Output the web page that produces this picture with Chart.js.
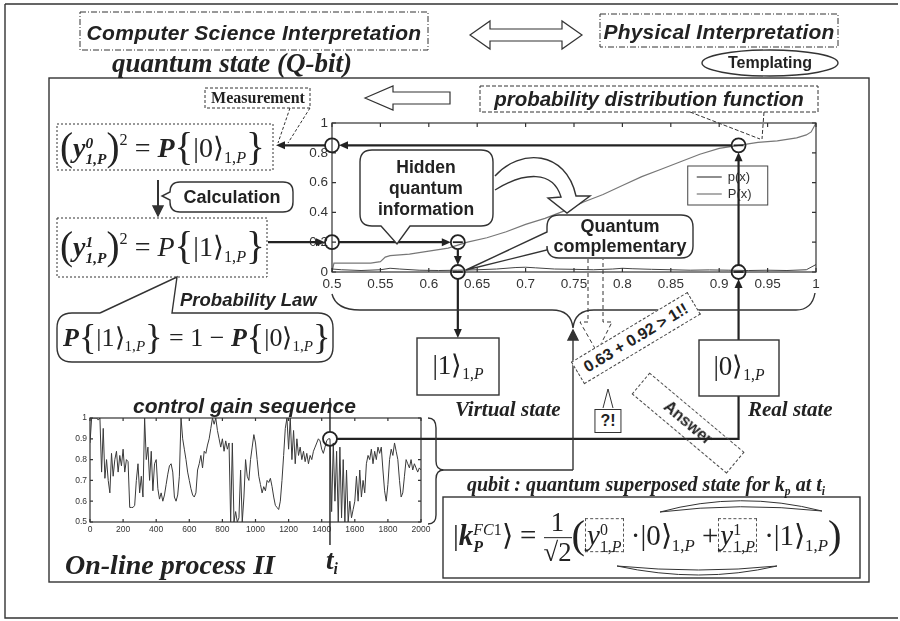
<!DOCTYPE html>
<html>
<head>
<meta charset="utf-8">
<script src="https://cdn.jsdelivr.net/npm/chart.js@4.4.1/dist/chart.umd.min.js"></script>
<style>
html,body{margin:0;padding:0;background:#fff;}
#page{position:relative;width:900px;height:621px;overflow:hidden;background:#fff;}
.cv{position:absolute;left:0;top:0;}
svg{position:absolute;left:0;top:0;}
.t{position:absolute;white-space:nowrap;transform:translate(-50%,-50%);color:#222;line-height:1;text-align:center;}
.l{position:absolute;white-space:nowrap;transform:translateY(-50%);color:#222;line-height:1;}
.sans{font-family:"Liberation Sans",Arial,sans-serif;font-weight:bold;}
.serif{font-family:"Liberation Serif","Times New Roman",serif;}
.bi{font-weight:bold;font-style:italic;}
.ss{display:inline-block;vertical-align:-0.45em;font-size:55%;line-height:1.05;text-align:left;}
.ss span{display:block;}
.br{font-size:140%;vertical-align:-0.08em;}
sub{font-size:58%;vertical-align:-0.35em;}
sup{font-size:58%;vertical-align:0.75em;}
.fr{display:inline-flex;flex-direction:column;vertical-align:middle;text-align:center;font-size:92%;line-height:1.1;}
.fr .den{border-top:1.4px solid #222;}
.dbox{border:1px dashed #555;padding:0 1px;}
</style>
</head>
<body>
<div id="page">
<canvas id="gainChart" class="cv" width="900" height="621"></canvas>
<canvas id="pdfChart" class="cv" width="900" height="621"></canvas>

<svg width="900" height="621" viewBox="0 0 900 621" fill="none" stroke="#333" stroke-width="1.4">
  <path d="M5 4 H898 M5 4 V618 H898"/>
  <rect x="49" y="78" width="820" height="504"/>
  <rect x="80" y="12" width="348" height="38" stroke-dasharray="6 2 1 2" stroke-width="1"/>
  <rect x="600" y="14" width="238" height="33" stroke-dasharray="6 2 1 2" stroke-width="1"/>
  <path d="M470 35 L490 21 L490 29 L562 29 L562 21 L582 35 L562 49 L562 41 L490 41 L490 49 Z" stroke-width="1.2"/>
  <ellipse cx="770" cy="63" rx="68" ry="13"/>
  <rect x="205" y="88" width="105" height="20" stroke-dasharray="3 2" stroke-width="1"/>
  <path d="M290 108 L278 143 M310 108 L288 143" stroke-dasharray="3 2" stroke-width="1"/>
  <path d="M365 98 L393 86 L393 92 L450 92 L450 104 L393 104 L393 110 Z" stroke-width="1.2"/>
  <rect x="480" y="86" width="338" height="26" stroke-dasharray="4 2" stroke-width="1"/>
  <path d="M690 112 L760 139 M764 112 L762 139" stroke-dasharray="4 2" stroke-width="1"/>
  <rect x="57" y="124" width="216" height="46" stroke-dasharray="2 2" stroke-width="1"/>
  <rect x="57" y="218" width="210" height="59" stroke-dasharray="2 2" stroke-width="1"/>
  <path d="M158 180 V208" stroke-width="2"/>
  <path d="M153 206 L158 216 L163 206 Z" fill="#333"/>
  <path d="M180 182 H283 Q293 182 293 192 V202 Q293 212 283 212 H180 Q170 212 170 202 V200 L162 196 L170 192 Q170 182 180 182 Z"/>
  <path d="M100 313 H72 Q57 313 57 328 V347 Q57 362 72 362 H318 Q333 362 333 347 V328 Q333 313 318 313 H172 L177 277 L100 313"/>
  <path d="M332 294 Q336 310 360 310 H552 Q571 310 573 328 Q575 310 594 310 H796 Q812 310 815 293"/>
  <path d="M573 470 V338"/>
  <path d="M568 340 L573 330 L578 340 Z" fill="#333"/>
  <path d="M444 470 H573"/>
  <path d="M428 418 Q436 418 436 428 V461 Q436 470 444 470 Q436 470 436 479 V515 Q436 524 428 524"/>
  <rect x="417" y="338" width="82" height="57"/>
  <rect x="699" y="340" width="80" height="56"/>
  <path d="M372 150 H481 Q493 150 493 162 V214 Q493 226 481 226 H410 L397 244 L381 226 H372 Q360 226 360 214 V162 Q360 150 372 150 Z" fill="#fff"/>
  <path d="M495 176 C520 148 566 150 576 196 L590 196 L567 213 L548 198 L561 197 C553 170 524 172 495 190" fill="#fff"/>
  <path d="M559 215 H681 Q693 215 693 227 V246 Q693 258 681 258 H559 Q547 258 547 246 V250 L466 270 L547 232 V227 Q547 215 559 215 Z" fill="#fff"/>
  <path d="M588 259 V322 L580 322 L597 352 L612 322 L603 322 V259" stroke-dasharray="4 3" stroke-width="1"/>
  <path d="M603 408 L608 389 L613 408" stroke-width="1"/>
  <rect x="443" y="497" width="417" height="81"/>
  <path d="M660 512 Q740 490 822 511 Q740 502 660 512 Z" stroke-width="1"/>
  <path d="M617 566 Q700 584 777 566 Q700 574 617 566 Z" stroke-width="1"/>
</svg>

<div class="t sans" style="left:254px;top:32px;font-size:21px;font-style:italic;letter-spacing:0.3px">Computer Science Interpretation</div>
<div class="t sans" style="left:719px;top:31px;font-size:21px;font-style:italic;letter-spacing:0.2px">Physical Interpretation</div>
<div class="t sans" style="left:770px;top:63px;font-size:16px">Templating</div>
<div class="l serif bi" style="left:112px;top:63px;font-size:27px">quantum state (Q-bit)</div>
<div class="t serif" style="left:258px;top:98px;font-size:16px;font-weight:bold">Measurement</div>
<div class="t sans" style="left:649px;top:99px;font-size:20.5px;font-style:italic">probability distribution function</div>

<div class="l serif" style="left:60px;top:147px;font-size:28px"><span class="br">(</span><b><i>y</i></b><span class="ss"><span><b><i>0</i></b></span><span><b><i>1,P</i></b></span></span><span class="br">)</span><sup>2</sup> = <b><i>P</i></b><span class="br">{</span>|0⟩<sub>1,<i>P</i></sub><span class="br">}</span></div>
<div class="t sans" style="left:232px;top:197px;font-size:18px">Calculation</div>
<div class="l serif" style="left:60px;top:246px;font-size:28px"><span class="br">(</span><b><i>y</i></b><span class="ss"><span><b><i>1</i></b></span><span><b><i>1,P</i></b></span></span><span class="br">)</span><sup>2</sup> = <i>P</i><span class="br">{</span>|1⟩<sub>1,<i>P</i></sub><span class="br">}</span></div>
<div class="l sans" style="left:180px;top:300px;font-size:18.5px;font-style:italic">Probability Law</div>
<div class="l serif" style="left:63px;top:337px;font-size:26px"><b><i>P</i></b><span class="br">{</span>|1⟩<sub>1,<i>P</i></sub><span class="br">}</span> = 1 − <b><i>P</i></b><span class="br">{</span>|0⟩<sub>1,<i>P</i></sub><span class="br">}</span></div>

<div class="t sans" style="left:426px;top:188px;font-size:17.5px;line-height:1.2">Hidden<br>quantum<br>information</div>
<div class="t sans" style="left:620px;top:237px;font-size:18px;line-height:1.1">Quantum<br>complementary</div>

<div class="t serif" style="left:458px;top:367px;font-size:27px">|1⟩<sub>1,<i>P</i></sub></div>
<div class="t serif" style="left:739px;top:368px;font-size:27px">|0⟩<sub>1,<i>P</i></sub></div>
<div class="l serif bi" style="left:455px;top:409px;font-size:21px">Virtual state</div>
<div class="l serif bi" style="left:748px;top:409px;font-size:21px">Real state</div>

<div class="t sans" style="left:636px;top:338px;font-size:16px;transform:translate(-50%,-50%) rotate(-31deg);border:1.2px dashed #444;padding:4px 8px;background:#fff">0.63 + 0.92 &gt; 1!!</div>
<div class="t sans" style="left:608px;top:421px;font-size:16px;border:1.3px solid #333;padding:3px 5px;background:#fff">?!</div>
<div class="t sans" style="left:688px;top:423px;font-size:16px;transform:translate(-50%,-50%) rotate(40deg);border:1.2px dashed #444;padding:5px 32px">Answer</div>

<div class="l sans" style="left:133px;top:405px;font-size:21px;font-style:italic">control gain sequence</div>
<div class="l serif bi" style="left:65px;top:565px;font-size:28px">On-line process II</div>
<div class="l serif bi" style="left:326px;top:562px;font-size:27px">t<sub>i</sub></div>
<div class="l serif bi" style="left:467px;top:486px;font-size:20px">qubit : quantum superposed state for k<sub>p</sub> at t<sub>i</sub></div>

<div class="l serif" style="left:453px;top:538px;font-size:29px">|<b><i>k</i></b><span class="ss"><span><i>FC</i>1</span><span><b><i>P</i></b></span></span>⟩ = <span class="fr"><span>1</span><span class="den">√2</span></span><span class="br">(</span><span class="dbox"><i>y</i><span class="ss"><span>0</span><span>1,<i>P</i></span></span></span> ·|0⟩<sub>1,<i>P</i></sub> +<span class="dbox"><i>y</i><span class="ss"><span>1</span><span>1,<i>P</i></span></span></span> ·|1⟩<sub>1,<i>P</i></sub><span class="br">)</span></div>
</div>

<script>
// probability distribution chart (x from 0.5 to 1)
const pdfX = [0.5, 0.51, 0.53, 0.55, 0.56, 0.57, 0.59, 0.61, 0.63, 0.65, 0.67, 0.69, 0.7, 0.71, 0.73, 0.75, 0.77, 0.79, 0.8, 0.81, 0.83, 0.85, 0.87, 0.89, 0.91, 0.93, 0.95, 0.97, 0.99, 1.0];
const pdfY = [0.02, 0.015, 0.01, 0.015, 0.025, 0.02, 0.012, 0.01, 0.012, 0.015, 0.02, 0.03, 0.032, 0.028, 0.02, 0.018, 0.015, 0.02, 0.025, 0.022, 0.018, 0.015, 0.012, 0.014, 0.012, 0.01, 0.012, 0.01, 0.015, 0.05];
const cdfX = [0.5, 0.502, 0.52, 0.54, 0.55, 0.555, 0.56, 0.58, 0.6, 0.62, 0.63, 0.64, 0.66, 0.68, 0.7, 0.72, 0.74, 0.76, 0.78, 0.8, 0.82, 0.84, 0.86, 0.88, 0.9, 0.92, 0.94, 0.96, 0.98, 0.99, 0.995, 1.0];
const cdfY = [0, 0.06, 0.06, 0.06, 0.07, 0.1, 0.11, 0.12, 0.14, 0.16, 0.18, 0.2, 0.23, 0.27, 0.32, 0.36, 0.41, 0.47, 0.52, 0.58, 0.64, 0.69, 0.74, 0.79, 0.83, 0.85, 0.87, 0.88, 0.9, 0.92, 0.94, 1.0];
const pdfXTicks = [0.5, 0.55, 0.6, 0.65, 0.7, 0.75, 0.8, 0.85, 0.9, 0.95, 1];
const pdfYTicks = [0, 0.2, 0.4, 0.6, 0.8, 1];
const seriesNames = ["p(x)", "P(x)"];

// picked values: virtual state at 0.63 -> 0.2, real state at 0.92 -> 0.85
const pickX = [0.63, 0.92];
const pickY = [0.2, 0.85];

// control gain sequence, one value every 10 samples from 0 to 2000
const gainStep = 10;
const gainY = [
0.88,1.0,1.0,1.0,1.0,0.99,1.0,0.74,0.95,0.71,0.8,0.7,0.64,0.83,0.72,0.8,0.84,0.74,0.82,0.77,
0.85,0.74,0.8,0.79,0.57,0.57,0.57,0.58,0.7,0.78,0.64,0.72,0.62,1.0,0.8,0.86,0.7,0.84,0.65,0.78,
0.8,0.66,0.61,0.64,0.6,0.63,0.68,0.73,0.77,0.78,0.74,0.62,0.6,0.63,0.72,1.0,0.9,0.85,0.8,0.74,
0.7,0.66,0.63,0.62,0.64,0.75,0.78,0.82,0.76,0.84,0.83,0.87,0.9,0.95,1.0,0.97,1.0,0.94,0.9,0.86,
0.9,0.84,0.89,0.85,0.88,0.5,0.88,0.5,0.55,0.5,0.52,0.75,0.5,0.62,0.8,0.72,0.7,0.8,0.86,0.92,
0.88,0.8,0.72,0.68,0.64,0.67,0.65,0.7,0.69,0.71,0.67,0.62,0.58,0.57,0.56,0.6,0.7,0.82,0.95,1.0,
0.85,1.0,0.8,0.94,0.78,0.9,0.82,0.86,0.8,0.84,0.79,0.83,0.78,0.82,0.8,0.84,0.86,0.88,0.9,0.89,
0.85,0.83,0.86,0.89,0.9,0.9,0.55,0.88,0.6,0.84,0.5,0.86,0.52,0.8,0.5,0.75,0.5,0.6,0.52,0.56,
0.6,0.72,0.6,0.75,0.62,0.7,0.64,0.78,0.82,0.8,0.85,0.78,0.84,0.8,0.86,0.83,0.86,0.75,0.65,0.6,
0.68,0.8,0.85,0.82,0.88,0.84,0.8,0.7,0.62,0.64,0.72,0.8,0.78,0.76,0.8,0.75,0.78,0.76,0.74,0.76,0.75
];
const gainXTicks = [0, 200, 400, 600, 800, 1000, 1200, 1400, 1600, 1800, 2000];
const gainYTicks = [0.5, 0.6, 0.7, 0.8, 0.9, 1];
const tiSample = 1450;
const tiGain = 0.9;

Chart.defaults.font.family = '"Liberation Sans", Arial, sans-serif';
Chart.defaults.color = "#333";

function fmt(v){ return String(+(+v).toFixed(2)); }

function arrow(ctx, x1, y1, x2, y2){
  const a = Math.atan2(y2 - y1, x2 - x1), h = 9, w = 4;
  ctx.beginPath();
  ctx.moveTo(x1, y1);
  ctx.lineTo(x2 - Math.cos(a) * h * 0.8, y2 - Math.sin(a) * h * 0.8);
  ctx.stroke();
  ctx.beginPath();
  ctx.moveTo(x2, y2);
  ctx.lineTo(x2 - h * Math.cos(a) + w * Math.sin(a), y2 - h * Math.sin(a) - w * Math.cos(a));
  ctx.lineTo(x2 - h * Math.cos(a) - w * Math.sin(a), y2 - h * Math.sin(a) + w * Math.cos(a));
  ctx.closePath();
  ctx.fill();
}
function ring(ctx, cx, cy, r, bar){
  ctx.beginPath(); ctx.arc(cx, cy, r, 0, Math.PI * 2); ctx.stroke();
  if (bar){ ctx.beginPath(); ctx.moveTo(cx - r + 2, cy); ctx.lineTo(cx + r - 2, cy); ctx.stroke(); }
}
// box round the plot with small inward ticks on every side
function drawFrame(chart, len){
  const {ctx, chartArea: a, scales: {x, y}} = chart;
  ctx.save();
  ctx.strokeStyle = "#333"; ctx.lineWidth = 1.2;
  ctx.strokeRect(a.left, a.top, a.right - a.left, a.bottom - a.top);
  ctx.beginPath();
  x.ticks.forEach(t => { const p = x.getPixelForValue(t.value);
    ctx.moveTo(p, a.bottom); ctx.lineTo(p, a.bottom - len); ctx.moveTo(p, a.top); ctx.lineTo(p, a.top + len); });
  y.ticks.forEach(t => { const p = y.getPixelForValue(t.value);
    ctx.moveTo(a.left, p); ctx.lineTo(a.left + len, p); ctx.moveTo(a.right, p); ctx.lineTo(a.right - len, p); });
  ctx.stroke();
  ctx.restore();
}

const pdfMarks = {
  id: "pdfMarks",
  afterDraw(chart){
    const {ctx, chartArea: a, scales: {x, y}} = chart;
    drawFrame(chart, 4);
    // legend box inside the plot
    const lx = a.left + (a.right - a.left) * 0.735, ly = a.top + 43;
    ctx.save();
    ctx.fillStyle = "#fff"; ctx.strokeStyle = "#444"; ctx.lineWidth = 1;
    ctx.fillRect(lx, ly, 80, 39); ctx.strokeRect(lx, ly, 80, 39);
    chart.data.datasets.forEach((d, i) => {
      const yy = ly + 11 + i * 17;
      ctx.strokeStyle = d.borderColor; ctx.lineWidth = 1.2;
      ctx.beginPath(); ctx.moveTo(lx + 9, yy); ctx.lineTo(lx + 34, yy); ctx.stroke();
      ctx.fillStyle = "#333"; ctx.font = '13px "Liberation Sans", Arial'; ctx.textBaseline = "middle";
      ctx.fillText(d.label, lx + 40, yy);
    });
    // measurement arrows and markers
    const r = 7;
    const X0 = x.getPixelForValue(0.5), X1 = x.getPixelForValue(pickX[0]), X2 = x.getPixelForValue(pickX[1]);
    const Yl = y.getPixelForValue(pickY[0]), Yh = y.getPixelForValue(pickY[1]), Y0 = y.getPixelForValue(0);
    ctx.strokeStyle = "#222"; ctx.fillStyle = "#222"; ctx.lineWidth = 2.2;
    arrow(ctx, X2 - r, Yh, X0 + r, Yh);
    arrow(ctx, X0 - r, Yh, 276, Yh);
    arrow(ctx, 268, Yl, X0 - r, Yl);
    arrow(ctx, X0 + r, Yl, X1 - r, Yl);
    arrow(ctx, X1, Yl + r, X1, Y0 - r);
    arrow(ctx, X1, Y0 + r, X1, 338);
    arrow(ctx, X2, 340, X2, Y0 + r);
    arrow(ctx, X2, Y0 - r, X2, Yh + r);
    ctx.lineWidth = 1.8;
    ring(ctx, X0, Yh, r, false);
    ring(ctx, X2, Yh, r, true);
    ring(ctx, X0, Yl, r, false);
    ring(ctx, X1, Yl, r, true);
    ring(ctx, X1, Y0, r, true);
    ring(ctx, X2, Y0, r, true);
    ctx.restore();
  }
};

const pdfChart = new Chart(document.getElementById("pdfChart"), {
  type: "line",
  data: {
    datasets: [
      { label: seriesNames[0], data: pdfX.map((v, i) => ({x: v, y: pdfY[i]})), borderColor: "#444", borderWidth: 1, pointRadius: 0 },
      { label: seriesNames[1], data: cdfX.map((v, i) => ({x: v, y: cdfY[i]})), borderColor: "#777", borderWidth: 1.2, pointRadius: 0 }
    ]
  },
  options: {
    responsive: false, animation: false,
    layout: { padding: { left: 302, right: 84, top: 123, bottom: 331 } },
    plugins: { legend: { display: false }, tooltip: { enabled: false } },
    scales: {
      x: { type: "linear", min: 0.5, max: 1,
        afterBuildTicks: s => { s.ticks = pdfXTicks.map(v => ({value: v})); },
        afterFit: s => { s.height = 18; },
        grid: { display: false, drawTicks: false, tickLength: 0 }, border: { display: false },
        ticks: { font: { size: 13.5 }, padding: 4, maxRotation: 0, autoSkip: false, callback: fmt } },
      y: { min: 0, max: 1,
        afterBuildTicks: s => { s.ticks = pdfYTicks.map(v => ({value: v})); },
        afterFit: s => { s.width = 30; },
        grid: { display: false, drawTicks: false, tickLength: 0 }, border: { display: false },
        ticks: { font: { size: 13.5 }, padding: 4, callback: fmt } }
    }
  },
  plugins: [pdfMarks]
});

const gainMarks = {
  id: "gainMarks",
  afterDraw(chart){
    const {ctx, scales: {x, y}} = chart;
    drawFrame(chart, 3);
    const r = 7;
    const T = x.getPixelForValue(tiSample), V = y.getPixelForValue(tiGain);
    const X2 = pdfChart.scales.x.getPixelForValue(pickX[1]);
    ctx.save();
    ctx.strokeStyle = "#222"; ctx.lineWidth = 1.4;
    ctx.beginPath(); ctx.moveTo(T, 398); ctx.lineTo(T, V - r); ctx.moveTo(T, V + r); ctx.lineTo(T, 545); ctx.stroke();
    ctx.lineWidth = 2.2;
    ctx.beginPath(); ctx.moveTo(T + r, V); ctx.lineTo(X2, V); ctx.lineTo(X2, 396); ctx.stroke();
    ctx.lineWidth = 1.8;
    ring(ctx, T, V, r, false);
    ctx.restore();
  }
};

new Chart(document.getElementById("gainChart"), {
  type: "line",
  data: {
    datasets: [
      { label: "control gain", data: gainY.map((v, i) => ({x: i * gainStep, y: v})), borderColor: "#3a3a3a", borderWidth: 1, pointRadius: 0 }
    ]
  },
  options: {
    responsive: false, animation: false,
    layout: { padding: { left: 70, right: 479, top: 418, bottom: 85 } },
    plugins: { legend: { display: false }, tooltip: { enabled: false } },
    scales: {
      x: { type: "linear", min: 0, max: 2000,
        afterBuildTicks: s => { s.ticks = gainXTicks.map(v => ({value: v})); },
        afterFit: s => { s.height = 14; },
        grid: { display: false, drawTicks: false, tickLength: 0 }, border: { display: false },
        ticks: { font: { size: 8.5 }, padding: 3, maxRotation: 0, autoSkip: false, callback: v => String(v) } },
      y: { min: 0.5, max: 1,
        afterBuildTicks: s => { s.ticks = gainYTicks.map(v => ({value: v})); },
        afterFit: s => { s.width = 20; },
        grid: { display: false, drawTicks: false, tickLength: 0 }, border: { display: false },
        ticks: { font: { size: 8.5 }, padding: 3, callback: fmt } }
    }
  },
  plugins: [gainMarks]
});
</script>
</body>
</html>
